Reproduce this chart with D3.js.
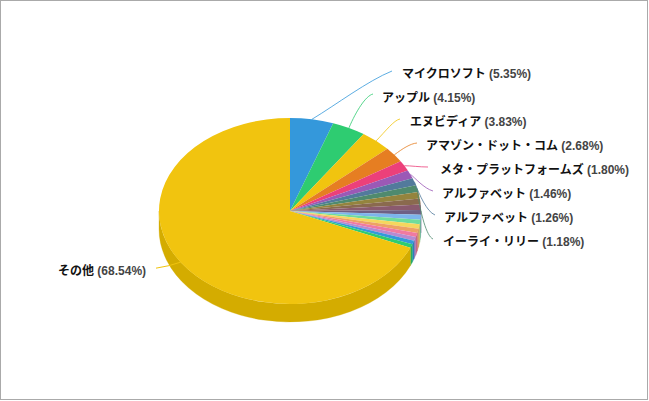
<!DOCTYPE html>
<html><head><meta charset="utf-8">
<script src="https://cdn.jsdelivr.net/npm/d3@7/dist/d3.min.js"></script>
<style>html,body{margin:0;padding:0;background:#fff}svg{display:block}text{font-family:"Liberation Sans",Arial,sans-serif}</style>
</head><body><svg id="c" width="649" height="401"></svg>
<script>
const names=["マイクロソフト","アップル","エヌビディア","アマゾン・ドット・コム","メタ・プラットフォームズ","アルファベット","アルファベット","イーライ・リリー","","","","","","","","","","","","","その他"];
const shares=[5.35,4.15,3.83,2.68,1.80,1.46,1.26,1.18,1.15,1.03,0.92,0.85,0.82,0.80,0.77,0.75,0.72,0.68,0.63,0.63,68.54];
const colors=["#3498db","#2ecc71","#f1c40f","#e67e22","#ec407a","#9b59b6","#527a9c","#4f8a6e","#94843e","#8a6a4e","#8a5a6e","#6e6085","#7cb5ec","#6fdc9c","#f5d75e","#eda263","#f07aa0","#b88ad0","#3498db","#2ecc71","#f1c40f"];
const sideColors=colors.map(c=>d3.color(c).darker(0.45).formatHex());
sideColors[20]="#d4ac00";
const cx=290,cy=211,rx=131,ry=93,depth=18;
const svg=d3.select("#c");
svg.append("rect").attr("x",0.5).attr("y",0.5).attr("width",647).attr("height",399).attr("fill","#fff").attr("stroke","#aaa");
const pie=d3.pie().sort(null).value(d=>d)(shares);
function pt(a){return [cx+rx*Math.sin(a),cy-ry*Math.cos(a)];}
function slicePath(d){
  const [x0,y0]=pt(d.startAngle),[x1,y1]=pt(d.endAngle);
  const large=d.endAngle-d.startAngle>Math.PI?1:0;
  return `M${cx},${cy}L${x0},${y0}A${rx},${ry} 0 ${large} 1 ${x1},${y1}Z`;
}
function sidePath(d){
  const s=Math.max(d.startAngle,Math.PI/2),e=Math.min(d.endAngle,Math.PI*1.5);
  if(e<=s) return null;
  const [x0,y0]=pt(s),[x1,y1]=pt(e);
  return `M${x0},${y0}A${rx},${ry} 0 0 1 ${x1},${y1}L${x1},${y1+depth}A${rx},${ry} 0 0 0 ${x0},${y0+depth}Z`;
}
svg.append("g").selectAll("path").data(pie.filter(d=>sidePath(d))).join("path")
  .attr("d",sidePath).attr("fill",d=>sideColors[d.index]).attr("stroke",d=>sideColors[d.index]).attr("stroke-width",.3);
svg.append("g").selectAll("path").data(pie).join("path")
  .attr("d",slicePath).attr("fill",(d,i)=>colors[i]);
const labelPos=[[402,73],[382,97],[410,121],[426,145],[440,169],[442,193],[444,217],[443,241]];
const lineEnd=[[392,71],[373,94],[400,119],[417,143],[428,167],[433,191],[435,215],[433,239]];
const bend=[[.3,.3,.7,.8],[.3,.5,.7,.95],[.4,.45,.75,.95],[.35,.5,.7,.95],[.3,0,.6,1],[.2,.2,.6,.85],[.25,.4,.6,.9],[.2,.5,.6,.95]];
const labelled=pie.slice(0,8);
const lg=svg.append("g").attr("fill","none");
labelled.forEach((d,i)=>{
  const [px,py]=pt((d.startAngle+d.endAngle)/2);
  const [ex,ey]=lineEnd[i],b=bend[i],dx=ex-px,dy=ey-py;
  lg.append("path").attr("d",`M${px},${py}C${px+dx*b[0]},${py+dy*b[1]} ${px+dx*b[2]},${py+dy*b[3]} ${ex},${ey}`)
    .attr("stroke",colors[i]).attr("opacity",.8);
});
const oa=pie[20];
const [ox,oy]=pt((oa.startAngle+oa.endAngle)/2);
lg.append("path").attr("d",`M${ox},${oy}Q${ox-11},${oy+4} 156,${oy+6}`).attr("stroke",colors[20]);
const txt=svg.append("g");
function label(xx,yy,name,v){
  const t=txt.append("text").attr("x",xx).attr("y",yy).attr("font-size",12).attr("font-weight","bold").attr("fill","#444");
  t.append("tspan").attr("fill","#111").style("font-family","'Noto Sans CJK JP'").attr("font-size",12).text(name);
  t.append("tspan").text(` (${v.toFixed(2)}%)`);
}
labelled.forEach((d,i)=>label(labelPos[i][0],labelPos[i][1]+5,names[i],shares[i]));
label(58,275,names[20],shares[20]);
</script></body></html>
